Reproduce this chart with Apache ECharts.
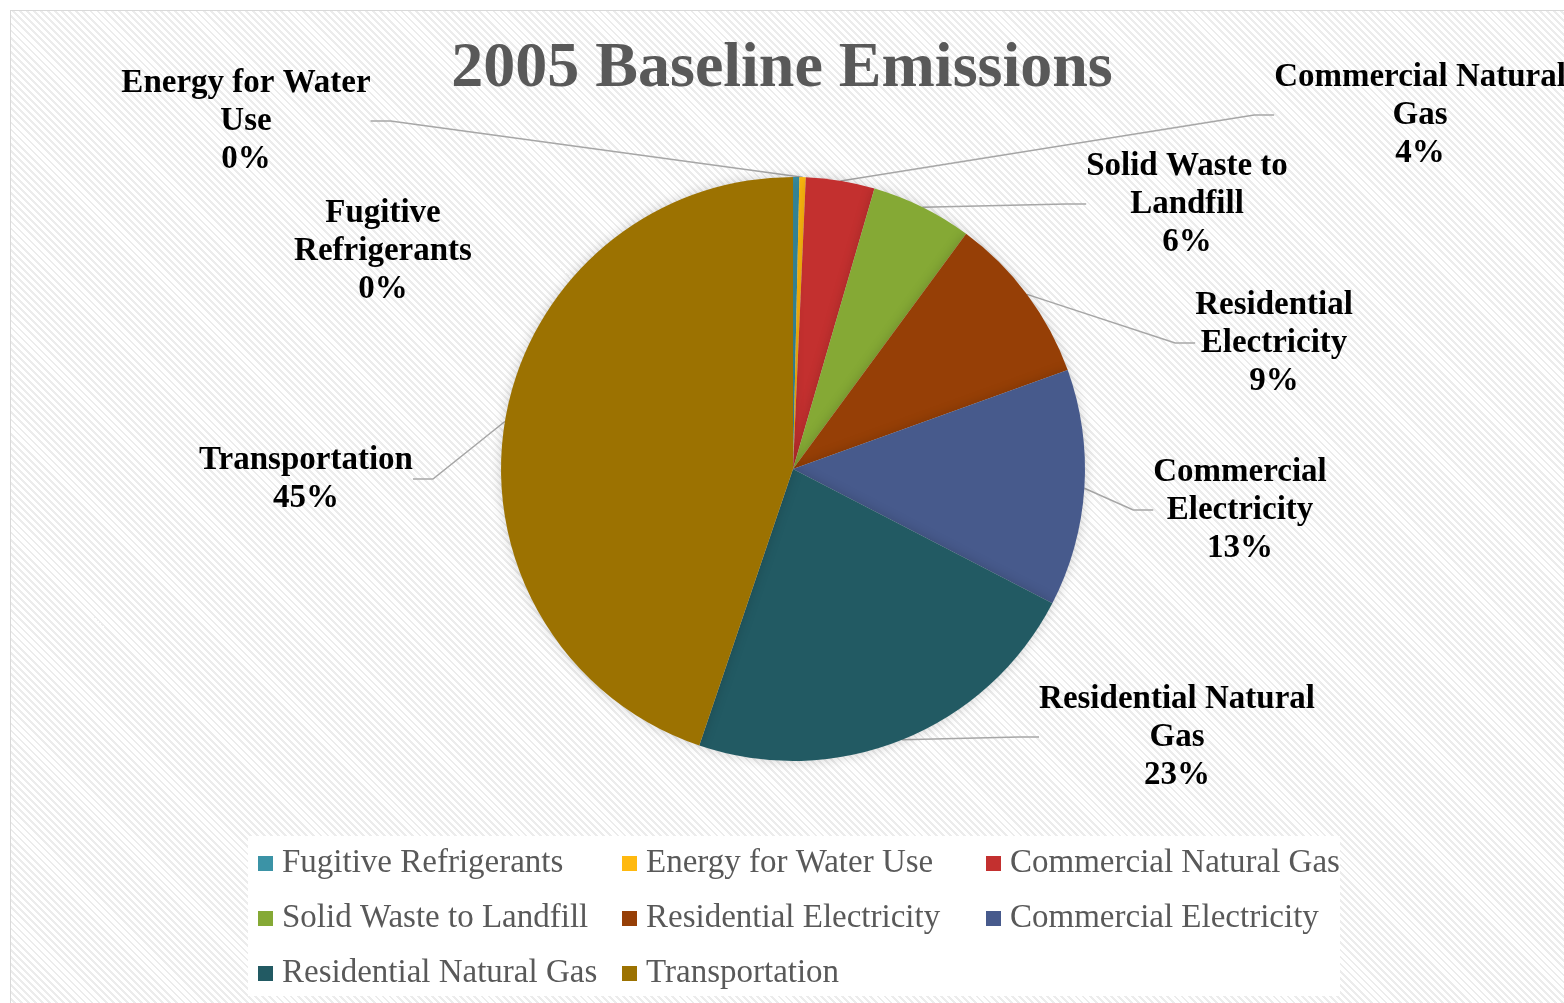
<!DOCTYPE html>
<html>
<head>
<meta charset="utf-8">
<script src="https://cdn.jsdelivr.net/npm/echarts@6/dist/echarts.min.js"></script>
<style>
html, body { margin: 0; padding: 0; width: 1564px; height: 1003px; overflow: hidden; background: #ffffff; }
#frame { position: absolute; left: 10px; top: 10px; width: 1600px; height: 1100px; border: 1.5px solid #d9d9d9;
  background: repeating-linear-gradient(45deg, #ffffff 0px, #ffffff 3px, #ececec 3px, #ececec 5px); }
#chart { position: absolute; left: 0; top: 0; width: 1564px; height: 1003px; }
</style>
</head>
<body>
<div id="frame"></div>
<div id="chart"></div>
<script>
const categories = ['Fugitive Refrigerants', 'Energy for Water Use', 'Commercial Natural Gas', 'Solid Waste to Landfill',
  'Residential Electricity', 'Commercial Electricity', 'Residential Natural Gas', 'Transportation'];
const values = [0.35, 0.35, 3.8, 5.6, 9.4, 13.1, 22.6, 44.8];
const labelTexts = ['Fugitive\nRefrigerants', 'Energy for Water\nUse', 'Commercial Natural\nGas', 'Solid Waste to\nLandfill',
  'Residential\nElectricity', 'Commercial\nElectricity', 'Residential Natural\nGas', 'Transportation'];
const colors = ['#3b93a6', '#ffb90f', '#c3302f', '#85a935', '#963f06', '#475a8c', '#225a63', '#9c7201'];
const legendCols = [
  ['Fugitive Refrigerants', 'Solid Waste to Landfill', 'Residential Natural Gas'],
  ['Energy for Water Use', 'Residential Electricity', 'Transportation'],
  ['Commercial Natural Gas', 'Commercial Electricity']
];
const titleText = '2005 Baseline Emissions';

// label layout (centres of label blocks)
const labelPos = [[383, 251], [246, 121], [1420, 115], [1187, 204], [1274, 343], [1240, 510], [1177, 737], [306, 479]];

const chart = echarts.init(document.getElementById('chart'), null, { renderer: 'canvas' });
const serif = '"Liberation Serif", "DejaVu Serif", serif';

const legendBase = {
  orient: 'vertical', top: 847, padding: 0, itemGap: 22, itemWidth: 15, itemHeight: 15, icon: 'rect',
  textStyle: { fontFamily: serif, fontSize: 33, color: '#595959', lineHeight: 32, padding: [0, 0, 0, 4] },
  itemStyle: { borderWidth: 0 }, selectedMode: false
};

chart.setOption({
  backgroundColor: 'transparent',
  animation: false,
  title: {
    text: titleText, left: 'center', top: 32,
    textStyle: { fontFamily: serif, fontWeight: 'bold', fontSize: 64, color: '#595959' }
  },
  graphic: [{ type: 'rect', shape: { x: 248, y: 836, width: 1092, height: 160 }, style: { fill: '#ffffff' }, z: -1 }],
  legend: legendCols.map((col, i) => Object.assign({}, legendBase, { data: col, left: [258, 622, 986][i] })),
  series: [{
    type: 'pie',
    center: [793, 469],
    radius: 292,
    startAngle: 90,
    clockwise: true,
    percentPrecision: 0,
    itemStyle: { borderWidth: 0, shadowBlur: 12, shadowColor: 'rgba(0,0,0,0.18)' },
    label: {
      show: true, position: 'outside',
      fontFamily: serif, fontWeight: 'bold', fontSize: 33, color: '#000000', lineHeight: 38, align: 'center'
    },
    labelLine: { show: true, length: 20, length2: 20, lineStyle: { color: '#a6a6a6', width: 1.5 } },
    labelLayout: function (params) {
      const p = labelPos[params.dataIndex];
      return { x: p[0], y: p[1], align: 'center', verticalAlign: 'middle' };
    },
    data: categories.map((c, i) => ({
      name: c, value: values[i],
      itemStyle: { color: colors[i] },
      label: { formatter: labelTexts[i] + '\n{d}%' },
      labelLine: { show: i !== 0 }
    }))
  }]
});
</script>
</body>
</html>
